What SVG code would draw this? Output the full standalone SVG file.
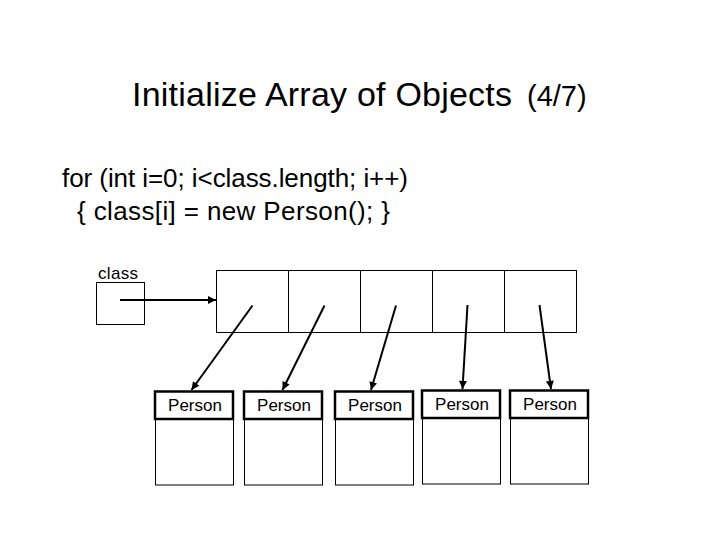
<svg xmlns="http://www.w3.org/2000/svg" width="720" height="540" viewBox="0 0 720 540">
<style>
text { font-family: "Liberation Sans", Arial, sans-serif; fill: #000; }
.title { font-size: 34px; }
.code { font-size: 26px; }
.cls { font-size: 17px; }
.lbl { font-size: 17px; text-anchor: middle; }
.thin { fill: #fff; stroke: #000; stroke-width: 1; }
.head { fill: #fff; stroke: #000; stroke-width: 2.5; }
.conn { stroke: #000; stroke-width: 2; fill: none; marker-end: url(#ah); }
</style>
<defs>
<marker id="ah" viewBox="0 0 10 10" refX="10" refY="5" markerWidth="9" markerHeight="8" markerUnits="userSpaceOnUse" orient="auto">
<path d="M0,0 L10,5 L0,10 z" fill="#000"/>
</marker>
</defs>
<rect width="720" height="540" fill="#fff"/>
<g id="title">
<text class="title" x="132" y="106" textLength="380" lengthAdjust="spacing">Initialize Array of Objects</text>
<text class="title" x="527" y="106" style="font-size:29px">(4/7)</text>
</g>
<g id="code">
<text class="code" x="62" y="187" textLength="346" lengthAdjust="spacing">for (int i=0; i&lt;class.length; i++)</text>
<text class="code" x="77" y="220" textLength="313" lengthAdjust="spacing">{ class[i] = new Person(); }</text>
</g>
<g id="class">
<text class="cls" x="98" y="279" textLength="40" lengthAdjust="spacing">class</text>
<rect class="thin" x="96.5" y="282.5" width="48" height="42"/>
</g>
<g id="array">
<rect class="thin" x="216.5" y="270.5" width="360" height="62"/>
<line x1="288.5" y1="270.5" x2="288.5" y2="332.5" stroke="#000" stroke-width="1"/>
<line x1="360.5" y1="270.5" x2="360.5" y2="332.5" stroke="#000" stroke-width="1"/>
<line x1="432.5" y1="270.5" x2="432.5" y2="332.5" stroke="#000" stroke-width="1"/>
<line x1="504.5" y1="270.5" x2="504.5" y2="332.5" stroke="#000" stroke-width="1"/>
</g>
<g id="person1">
<rect class="thin" x="155.5" y="419" width="78" height="66"/>
<rect class="head" x="155" y="391.5" width="78" height="27.5"/>
<text class="lbl" x="195" y="411">Person</text>
</g>
<g id="person2">
<rect class="thin" x="244.5" y="419" width="78" height="66"/>
<rect class="head" x="244" y="391.5" width="78" height="27.5"/>
<text class="lbl" x="284" y="411">Person</text>
</g>
<g id="person3">
<rect class="thin" x="335.5" y="419" width="78" height="66"/>
<rect class="head" x="335" y="391.5" width="78" height="27.5"/>
<text class="lbl" x="375" y="411">Person</text>
</g>
<g id="person4">
<rect class="thin" x="422.5" y="418" width="78" height="66"/>
<rect class="head" x="422" y="390.5" width="78" height="27.5"/>
<text class="lbl" x="462" y="410">Person</text>
</g>
<g id="person5">
<rect class="thin" x="510.5" y="418" width="78" height="66"/>
<rect class="head" x="510" y="390.5" width="78" height="27.5"/>
<text class="lbl" x="550" y="410">Person</text>
</g>
<g id="connectors">
<line class="conn" x1="120" y1="300" x2="216" y2="300"/>
<line class="conn" x1="252.5" y1="305.5" x2="191.5" y2="390"/>
<line class="conn" x1="324.5" y1="305.5" x2="282.5" y2="390"/>
<line class="conn" x1="396" y1="305.5" x2="371" y2="390"/>
<line class="conn" x1="467.5" y1="305" x2="462.5" y2="389"/>
<line class="conn" x1="539.5" y1="305" x2="551" y2="389"/>
</g>
</svg>
